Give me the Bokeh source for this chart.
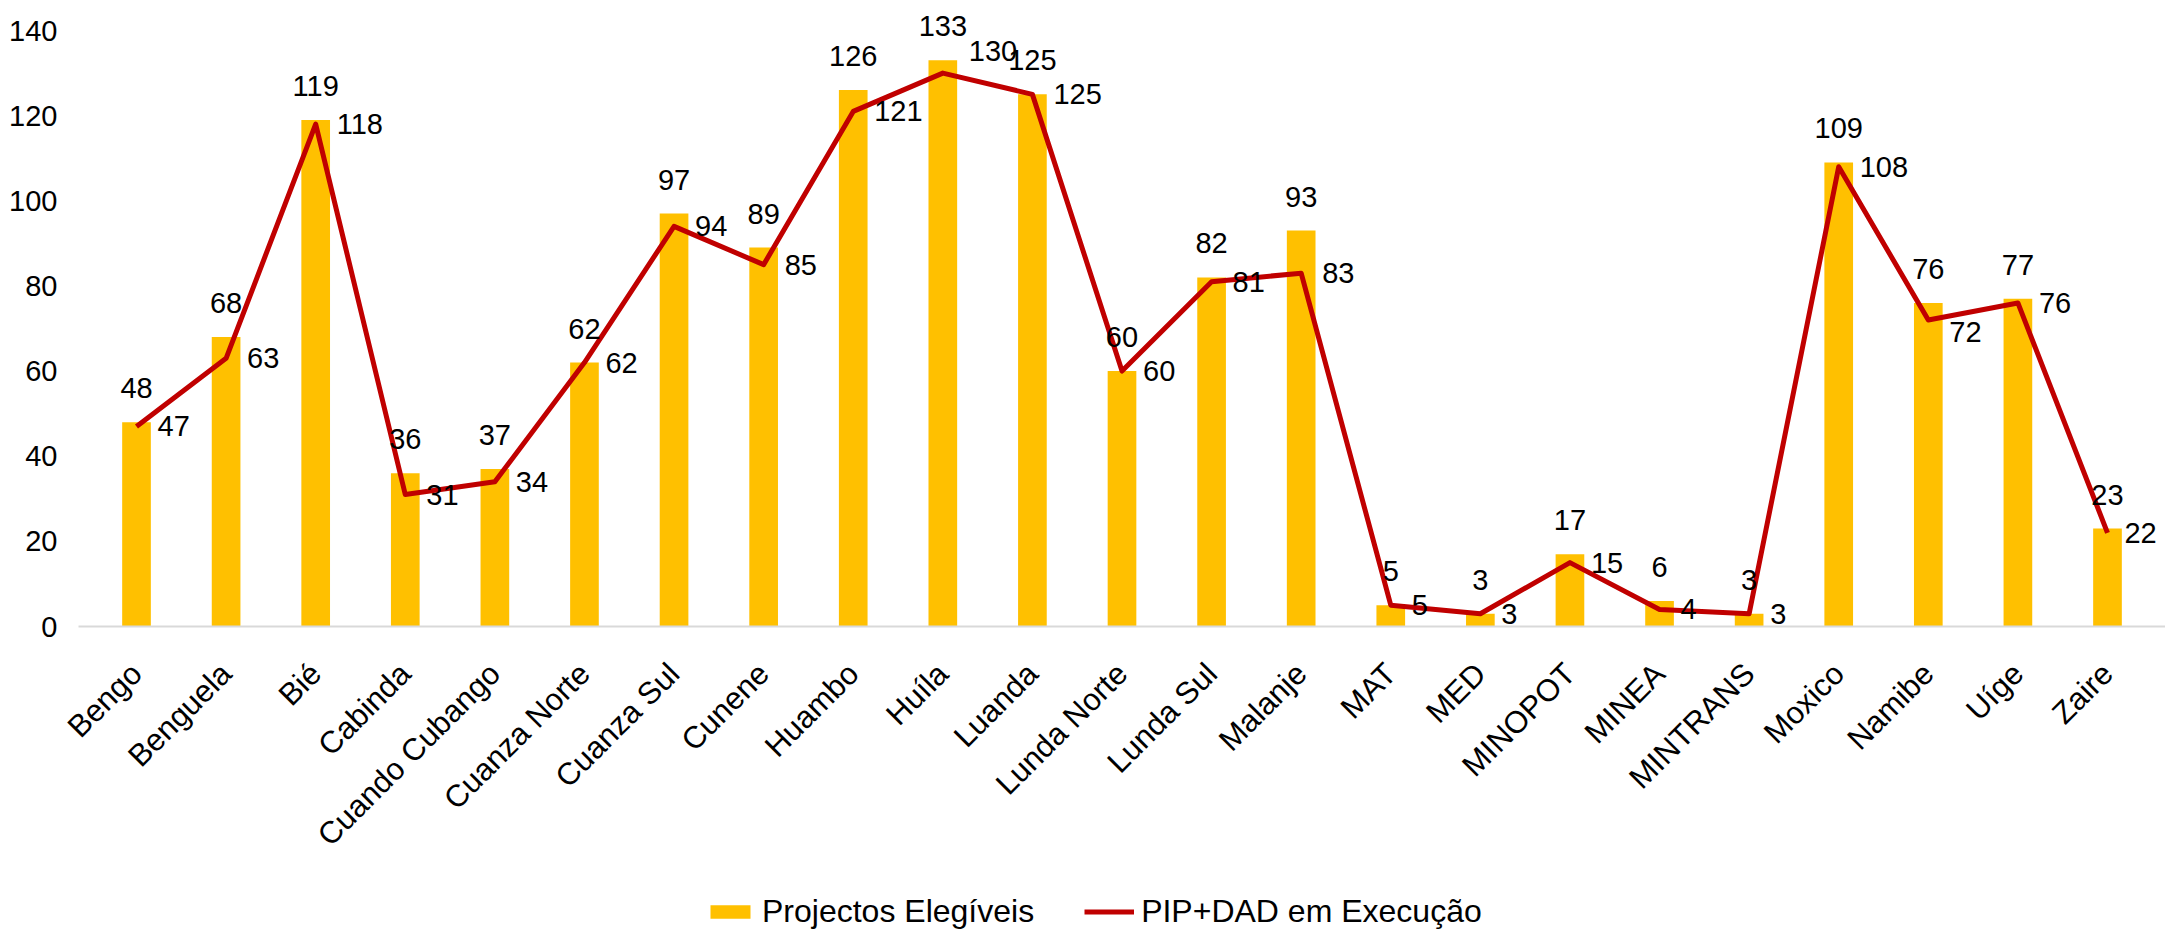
import math
from bokeh.plotting import figure
from bokeh.layouts import column
from bokeh.models import Range1d, FactorRange, FixedTicker, ColumnDataSource, Legend, LegendItem
from bokeh.core.properties import value
from bokeh.embed import file_html
from bokeh.resources import INLINE

categories = ["Bengo", "Benguela", "Bié", "Cabinda", "Cuando Cubango", "Cuanza Norte",
              "Cuanza Sul", "Cunene", "Huambo", "Huíla", "Luanda", "Lunda Norte",
              "Lunda Sul", "Malanje", "MAT", "MED", "MINOPOT", "MINEA", "MINTRANS",
              "Moxico", "Namibe", "Uíge", "Zaire"]
projectos_elegiveis = [48, 68, 119, 36, 37, 62, 97, 89, 126, 133, 125, 60, 82, 93,
                       5, 3, 17, 6, 3, 109, 76, 77, 23]
pip_dad_execucao = [47, 63, 118, 31, 34, 62, 94, 85, 121, 130, 125, 60, 81, 83,
                    5, 3, 15, 4, 3, 108, 72, 76, 22]
y_ticks = [0, 20, 40, 60, 80, 100, 120, 140]

series_names = ["Projectos Elegíveis", "PIP+DAD em Execução"]

FONT = "Liberation Sans"
BAR_COLOR = "#FFC000"
LINE_COLOR = "#C00000"

# manual label nudges (pixels) for the line labels that were moved in the original
line_dx = [21] * len(categories)
line_dy = [0] * len(categories)
line_dx[categories.index("Huíla")] = 26
line_dy[categories.index("Huíla")] = -22
line_dy[categories.index("Namibe")] = 12
line_dx[categories.index("Zaire")] = 17

src = ColumnDataSource(dict(
    cat=categories,
    proj=projectos_elegiveis,
    pip=pip_dad_execucao,
    proj_txt=[str(v) for v in projectos_elegiveis],
    pip_txt=[str(v) for v in pip_dad_execucao],
    dx=line_dx,
    dy=line_dy,
))

W = 2165
H_MAIN, H_LEG = 880, 54
x_range = FactorRange(factors=categories, range_padding=0.1475,
                      range_padding_units="absolute")
p = figure(x_range=x_range, y_range=Range1d(0, 147.05), width=W, height=H_MAIN,
           output_backend="svg", toolbar_location=None,
           min_border_left=78, min_border_right=0, min_border_top=0,
           min_border_bottom=H_MAIN - 626)

bars = p.vbar(x="cat", top="proj", width=0.32, source=src,
              fill_color=BAR_COLOR, line_color=None)
line = p.line(x="cat", y="pip", source=src, line_color=LINE_COLOR, line_width=5,
              line_join="round")

p.text(x="cat", y="proj", text="proj_txt", source=src, text_align="center",
       text_baseline="alphabetic", y_offset=-34, text_font=value(FONT),
       text_font_size="29px", text_color="#000000")
p.text(x="cat", y="pip", text="pip_txt", source=src, text_align="left",
       text_baseline="middle", x_offset="dx", y_offset="dy", text_font=value(FONT),
       text_font_size="29px", text_color="#000000")

p.xgrid.visible = False
p.ygrid.visible = False
p.outline_line_color = None
p.background_fill_color = "white"
p.border_fill_color = "white"

xa = p.xaxis[0]
xa.major_label_orientation = math.pi / 4
xa.major_label_text_font = FONT
xa.major_label_text_font_size = "31px"
xa.major_label_text_color = "#000000"
xa.major_tick_line_color = None
xa.minor_tick_line_color = None
xa.axis_line_color = "#D9D9D9"
xa.axis_line_width = 2
xa.major_label_standoff = 36

ya = p.yaxis[0]
ya.ticker = FixedTicker(ticks=y_ticks)
ya.major_label_text_font = FONT
ya.major_label_text_font_size = "29px"
ya.major_label_text_color = "#000000"
ya.axis_line_color = None
ya.major_tick_line_color = None
ya.minor_tick_line_color = None
ya.major_label_standoff = 15

# legend strip below the chart (sample glyphs sit outside the visible range)
lg = figure(width=W, height=H_LEG, x_range=Range1d(0, 1), y_range=Range1d(0, 1),
            output_backend="svg", toolbar_location=None,
            x_axis_type=None, y_axis_type=None, min_border=0)
lg.xgrid.visible = False
lg.ygrid.visible = False
lg.outline_line_color = None
lg_bar = lg.vbar(x=[5], top=[1], width=0.1, fill_color=BAR_COLOR, line_color=None)
lg_line = lg.line(x=[5, 6], y=[5, 5], line_color=LINE_COLOR, line_width=5)
legend = Legend(items=[LegendItem(label=series_names[0], renderers=[lg_bar]),
                       LegendItem(label=series_names[1], renderers=[lg_line])],
                orientation="horizontal", location=(627, 4),
                glyph_width=50, glyph_height=17, spacing=50, label_standoff=7,
                label_text_font=FONT, label_text_font_size="32px",
                label_text_color="#000000",
                border_line_color=None, background_fill_alpha=0, padding=0, margin=0)
lg.add_layout(legend, "center")

layout = column(p, lg, spacing=0)
open("out.html", "w").write(file_html(layout, INLINE))
